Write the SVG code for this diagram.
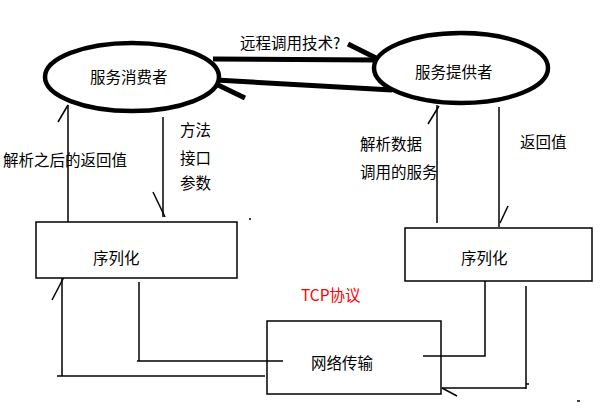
<svg xmlns="http://www.w3.org/2000/svg" width="613" height="408" viewBox="0 0 613 408">
<style>
text{font-family:"Microsoft YaHei","Noto Sans CJK SC","Liberation Sans",sans-serif;font-size:15.5px;fill:#000}
.th{stroke:#000;stroke-width:1.5;fill:none}
.bk{stroke:#000;stroke-width:5;fill:none;stroke-linecap:butt}
.box{stroke:#000;stroke-width:1.5;fill:#fff}
.ell{stroke:#000;stroke-width:4.5;fill:#fff}
</style>
<rect width="613" height="408" fill="#fff"/>
<g id="connectors">
<line class="bk" x1="213" y1="59" x2="376" y2="60"/>
<line class="bk" x1="216" y1="80" x2="392" y2="90"/>
<line class="bk" x1="218" y1="85" x2="245" y2="98"/>
<line class="bk" x1="348" y1="44" x2="376" y2="58"/>
<polyline class="th" points="68,222 68,105"/>
<line class="th" x1="58" y1="122" x2="68" y2="105"/>
<polyline class="th" points="163,117 163,217"/>
<line class="th" x1="153" y1="192" x2="165" y2="217"/>
<polyline class="th" points="139,282 139,361"/>
<line class="th" x1="137" y1="361" x2="283" y2="361"/>
<polyline class="th" points="62,278 62,376"/>
<line class="th" x1="57" y1="376" x2="265" y2="376"/>
<line class="th" x1="52" y1="300" x2="64" y2="277"/>
<polyline class="th" points="485,281 485,356 423,356"/>
<polyline class="th" points="526,286 526,389"/>
<line class="th" x1="442" y1="388" x2="526" y2="388"/>
<line class="th" x1="526" y1="384" x2="529" y2="384"/>
<line class="th" x1="442" y1="388" x2="457" y2="396"/>
<polyline class="th" points="437,105 437,223"/>
<line class="th" x1="428" y1="124" x2="439" y2="106"/>
<polyline class="th" points="499,107 499,227"/>
<line class="th" x1="500" y1="223" x2="508" y2="206"/>
<line class="th" x1="249" y1="219" x2="251" y2="219"/>
<line class="th" x1="577" y1="401" x2="580" y2="401"/>
</g>
<g id="consumer">
<ellipse class="ell" cx="132" cy="77" rx="87" ry="34"/>
<text x="90" y="83">服务消费者</text>
</g>
<g id="provider">
<ellipse class="ell" cx="461" cy="68" rx="87" ry="35"/>
<text x="415" y="78">服务提供者</text>
</g>
<g id="serialize-left">
<rect class="box" x="36" y="222" width="201" height="56"/>
<text x="93" y="264">序列化</text>
</g>
<g id="serialize-right">
<rect class="box" x="405" y="228" width="187" height="53"/>
<text x="461" y="264">序列化</text>
</g>
<g id="network">
<rect class="box" x="267" y="321" width="174" height="73"/>
<text x="311" y="369">网络传输</text>
</g>
<line class="th" x1="283" y1="361" x2="267" y2="361"/>
<line class="th" x1="423" y1="356" x2="441" y2="356"/>
<g id="labels">
<text x="240" y="49">远程调用技术?</text>
<text x="3" y="166">解析之后的返回值</text>
<text x="180" y="136">方法</text>
<text x="180" y="164">接口</text>
<text x="180" y="189">参数</text>
<text x="360" y="150">解析数据</text>
<text x="360" y="178">调用的服务</text>
<text x="520" y="148">返回值</text>
<text x="301" y="301" style="fill:#ff0000">TCP协议</text>
</g>
</svg>
